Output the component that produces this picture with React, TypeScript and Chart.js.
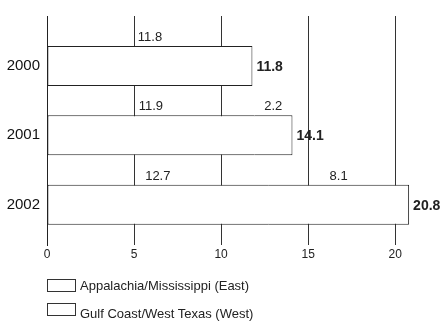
import React, { useEffect, useRef } from "react";
import { Chart, registerables } from "chart.js";

Chart.register(...registerables);

const years = ["2000", "2001", "2002"];
const seriesNames = ["Appalachia/Mississippi (East)", "Gulf Coast/West Texas (West)"];
const eastValues = [11.8, 11.9, 12.7];
const westValues = [0, 2.2, 8.1];
const xTicks = [0, 5, 10, 15, 20];

const FONT = "'Liberation Sans', Arial, sans-serif";
const INK = "#222";

const labelPlugin = {
  id: "valueLabels",
  afterDatasetsDraw(chart: any) {
    const ctx = chart.ctx;
    const series = [eastValues, westValues];
    ctx.save();
    ctx.fillStyle = INK;
    const ends: number[] = [];
    const mids: number[] = [];
    series.forEach((vals, d) => {
      const meta = chart.getDatasetMeta(d);
      meta.data.forEach((el: any, i: number) => {
        const p = el.getProps(["x", "y", "base", "height"], true);
        ends[i] = Math.max(ends[i] ?? -Infinity, p.x, p.base);
        mids[i] = p.y;
        const v = vals[i];
        if (v <= 0) return;
        ctx.font = `13px ${FONT}`;
        ctx.textAlign = "center";
        ctx.textBaseline = "bottom";
        ctx.fillText(v.toFixed(1), (p.x + p.base) / 2, p.y - p.height / 2 - 2);
      });
    });
    years.forEach((_, i) => {
      const total = eastValues[i] + westValues[i];
      ctx.font = `bold 14px ${FONT}`;
      ctx.textAlign = "left";
      ctx.textBaseline = "middle";
      ctx.fillText(total.toFixed(1), ends[i] + 4, mids[i] + 1);
    });
    ctx.restore();
  },
};

export default function App() {
  const ref = useRef<HTMLCanvasElement | null>(null);

  useEffect(() => {
    if (!ref.current) return;
    const chart = new Chart(ref.current, {
      type: "bar",
      data: {
        datasets: [
          {
            label: seriesNames[0],
            data: eastValues.map((v, i) => ({ x: v, y: i })),
            backgroundColor: "#fff",
            borderColor: INK,
            borderSkipped: false,
            inflateAmount: 0,
            borderWidth: (c: any) => ({
              top: 1,
              bottom: 1,
              left: 1,
              right: westValues[c.dataIndex] > 0 ? 0 : 1,
            }),
            barThickness: 40,
          } as any,
          {
            label: seriesNames[1],
            data: westValues.map((v, i) => ({ x: v, y: i })),
            backgroundColor: "#fff",
            borderColor: INK,
            borderSkipped: false,
            inflateAmount: 0,
            borderWidth: { top: 1, bottom: 1, left: 0, right: 1 },
            barThickness: 40,
          } as any,
        ],
      },
      options: {
        indexAxis: "y",
        responsive: false,
        animation: false,
        layout: { padding: { top: 15, right: 12, left: 0, bottom: 0 } },
        plugins: {
          legend: { display: false },
          tooltip: { enabled: false },
        },
        scales: {
          x: {
            type: "linear",
            stacked: true,
            min: 0,
            max: 22,
            afterBuildTicks: (s: any) => {
              s.ticks = xTicks.map((v) => ({ value: v }));
            },
            afterFit: (s: any) => {
              s.height = 77;
            },
            ticks: {
              font: { family: FONT, size: 12 },
              color: INK,
              padding: 2,
            },
            grid: { color: "#333", lineWidth: 1, drawTicks: false },
            border: { display: false },
          },
          y: {
            type: "linear",
            stacked: true,
            reverse: true,
            offset: false,
            min: -0.72,
            max: 2.58,
            afterBuildTicks: (s: any) => {
              s.ticks = years.map((_, i) => ({ value: i }));
            },
            afterFit: (s: any) => {
              s.width = 47;
            },
            ticks: {
              font: { family: FONT, size: 15 },
              color: "#111",
              padding: 7,
              callback: (v: any) => years[v] ?? "",
            },
            grid: { display: false, drawTicks: false, offset: false },
            border: { display: true, color: INK, width: 1 },
          },
        },
      } as any,
      plugins: [labelPlugin],
    });
    return () => chart.destroy();
  }, []);

  const legendRows = seriesNames.map((name, i) => (
    <React.Fragment key={name}>
      <div
        style={{
          position: "absolute",
          left: 47,
          top: 279 + i * 24,
          width: 29,
          height: 13,
          border: "1px solid #333",
          boxSizing: "border-box",
          background: "#fff",
        }}
      />
      <div
        style={{
          position: "absolute",
          left: 80,
          top: 278 + i * 28,
          fontFamily: FONT,
          fontSize: 13,
          lineHeight: "15px",
          color: INK,
          whiteSpace: "nowrap",
        }}
      >
        {name}
      </div>
    </React.Fragment>
  ));

  return (
    <div
      style={{
        position: "fixed",
        left: 0,
        top: 0,
        width: 442,
        height: 322,
        background: "#fff",
        overflow: "hidden",
      }}
    >
      <canvas ref={ref} width={442} height={322} style={{ display: "block" }} />
      {legendRows}
    </div>
  );
}
